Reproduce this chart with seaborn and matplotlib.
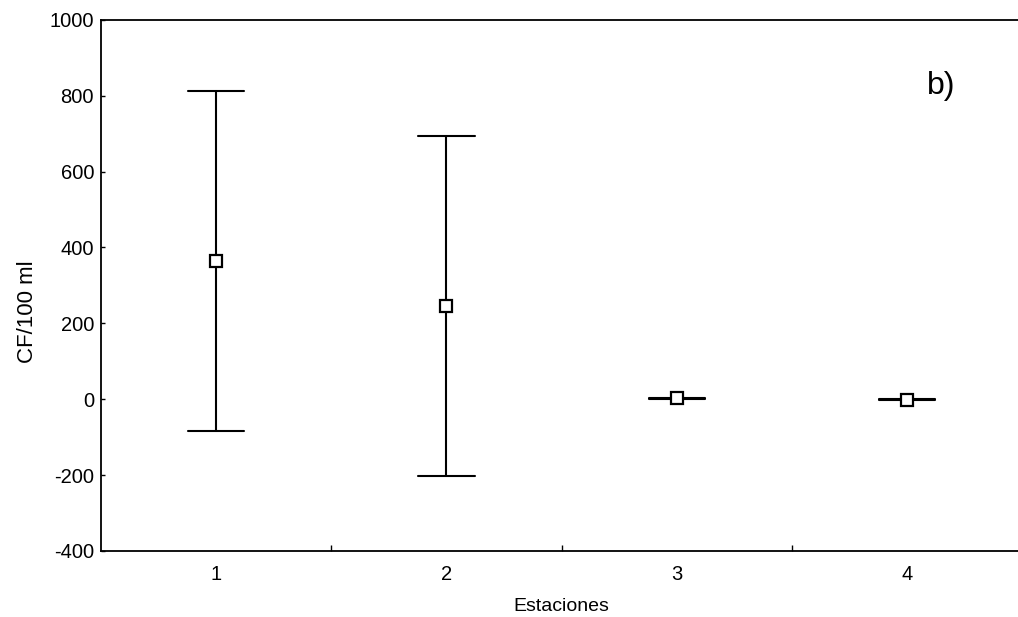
import numpy as np
import pandas as pd
import seaborn as sns
import matplotlib
matplotlib.use("Agg")
import matplotlib.pyplot as plt
from matplotlib.ticker import FixedLocator

# Stations and faecal coliform summary (mean and half-width of the interval)
stations = ["1", "2", "3", "4"]
means = [365, 246, 2, -1]
half_widths = [448, 448, 2, 1]
y_ticks = [-400, -200, 0, 200, 400, 600, 800, 1000]

# Each station is represented by the two interval endpoints; their mean is the
# centre point and their full range is the error bar.
rows = []
for s, m, h in zip(stations, means, half_widths):
    rows.append({"Estaciones": s, "CF": m - h})
    rows.append({"Estaciones": s, "CF": m + h})
df = pd.DataFrame(rows)

sns.set_theme(style="white")
plt.rcParams["font.family"] = ["Liberation Sans", "DejaVu Sans"]
plt.rcParams["axes.unicode_minus"] = False
plt.rcParams["text.color"] = "black"
plt.rcParams["axes.labelcolor"] = "black"
plt.rcParams["xtick.color"] = "black"
plt.rcParams["ytick.color"] = "black"

fig = plt.figure(figsize=(10.18, 6.17), dpi=100)
ax = fig.add_axes([0.0992, 0.107, 0.905, 0.861])

sns.pointplot(
    data=df, x="Estaciones", y="CF", order=stations,
    estimator="mean", errorbar=("pi", 100), capsize=0.245,
    color="black", linestyle="none", marker="s", markersize=8,
    markerfacecolor="white", markeredgecolor="black", markeredgewidth=1.6,
    err_kws={"linewidth": 1.5}, ax=ax,
)
# keep the square markers above the bars
for line in ax.lines:
    if line.get_marker() == "s":
        line.set_zorder(5)

ax.set_ylim(-400, 1000)
ax.set_xlim(-0.5, 3.5)
ax.set_yticks(y_ticks)
ax.xaxis.set_minor_locator(FixedLocator([0.5, 1.5, 2.5]))
ax.tick_params(axis="x", which="major", length=0, pad=10, labelsize=14.5, labelcolor="black")
ax.tick_params(axis="x", which="minor", direction="in", length=4, width=1, color="black", bottom=True)
ax.tick_params(axis="y", which="major", direction="in", length=3, width=1, color="black", left=True,
               pad=5, labelsize=14.5, labelcolor="black")

for side in ["left", "bottom", "top"]:
    ax.spines[side].set_color("black")
    ax.spines[side].set_linewidth(1.3)
ax.spines["right"].set_visible(False)

ax.set_xlabel("Estaciones", fontsize=14, color="black", labelpad=10)
ax.set_ylabel("CF/100 ml", fontsize=16, color="black")
ax.yaxis.set_label_coords(-0.068, 0.45)

ax.text(0.912, 0.875, "b)", transform=ax.transAxes, fontsize=23, ha="center", va="center", color="black")

fig.savefig("out.png", dpi=100)
